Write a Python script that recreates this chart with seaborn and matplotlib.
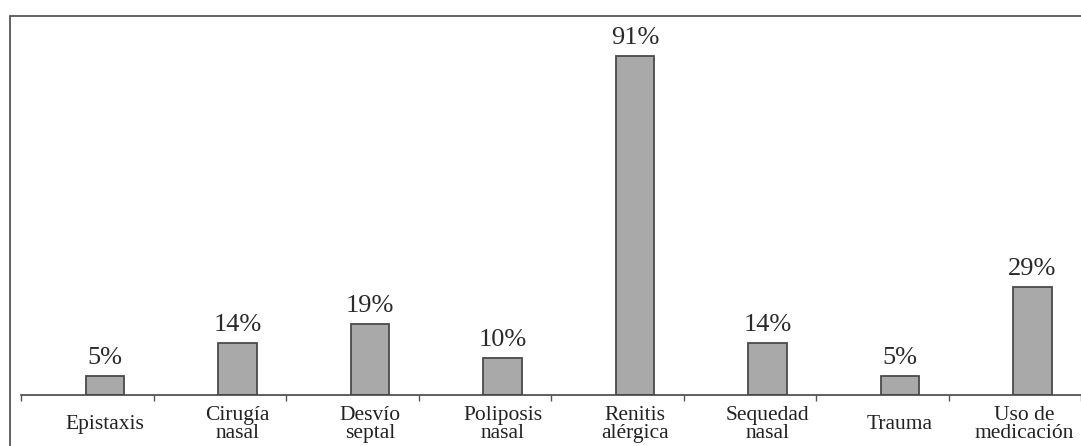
import pandas as pd
import seaborn as sns
import matplotlib.pyplot as plt
import matplotlib.transforms as mtransforms
from matplotlib.patches import Rectangle

categorias = ['Epistaxis', 'Cirugía\nnasal', 'Desvío\nseptal', 'Poliposis\nnasal',
              'Renitis\nalérgica', 'Sequedad\nnasal', 'Trauma', 'Uso de\nmedicación']
porcentajes = [5, 14, 19, 10, 91, 14, 5, 29]

df = pd.DataFrame({'categoria': categorias, 'porcentaje': porcentajes})

sns.set_style('white')
plt.rcParams['font.family'] = ['Liberation Serif', 'DejaVu Serif']

fig = plt.figure(figsize=(10.81, 4.46), dpi=100)
fig.patch.set_facecolor('white')

# marco exterior (borde del area del grafico)
fig.patches.append(Rectangle((10 / 1081, -0.2), 1.2, 1.2 - 16 / 446,
                             transform=fig.transFigure, fill=False,
                             edgecolor='#555555', linewidth=1.3))

ax = fig.add_axes([21 / 1081, 51 / 446, 1060 / 1081, 373 / 446])
ax.set_facecolor('white')
sns.barplot(data=df, x='categoria', y='porcentaje', ax=ax, width=0.29,
            color='#a9a9a9', edgecolor='#4a4a4a', linewidth=1.3, saturation=1)

ax.bar_label(ax.containers[0], labels=[f'{v}%' for v in porcentajes],
             padding=5, fontsize=19, color='#2a2a2a')

ax.set_xlim(-0.634, 7.366)
ax.set_ylim(0, 100)
ax.set_xlabel('')
ax.set_ylabel('')
ax.set_yticks([])
ax.set_xticks([i + 0.366 for i in range(-1, 8)], minor=True)
ax.tick_params(axis='x', which='major', length=0, pad=21, labelsize=15.5,
               labelcolor='#222222')
ax.tick_params(axis='x', which='minor', length=4, width=1, color='#555555',
               direction='out', bottom=True)
for lbl in ax.get_xticklabels():
    lbl.set_verticalalignment('center')
    lbl.set_linespacing(0.95)
# la ultima etiqueta queda pegada al borde derecho
ult = ax.get_xticklabels()[-1]
ult.set_transform(ult.get_transform() +
                  mtransforms.ScaledTranslation(-6 / 72, 0, fig.dpi_scale_trans))

for s in ['top', 'right', 'left']:
    ax.spines[s].set_visible(False)
ax.spines['bottom'].set_color('#444444')
ax.spines['bottom'].set_linewidth(1.2)

fig.savefig('out.png', dpi=100, facecolor='white')
